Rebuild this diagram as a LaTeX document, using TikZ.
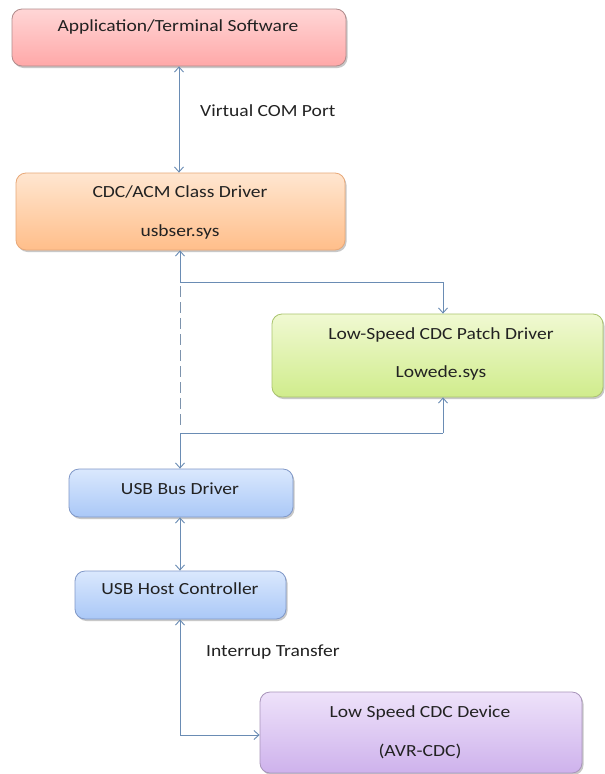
\documentclass[tikz,border=0pt]{standalone}
\usepackage{fontspec}
\setmainfont{Carlito}[FakeStretch=1.15]
\usetikzlibrary{arrows.meta,shadows,calc}

\definecolor{wire}{HTML}{6A8CB4}
\definecolor{dashwire}{HTML}{7D93AD}
\definecolor{ink}{HTML}{222222}

\tikzset{
  box/.style={rectangle, rounded corners=10pt, line width=0.8pt, inner sep=0pt,
    drop shadow={shadow xshift=1.5pt, shadow yshift=-2pt, opacity=0.3, fill=black!70}},
  lbl/.style={text=ink, font=\fontsize{17}{19}\selectfont, inner sep=0pt},
  link/.style={draw=wire, line width=0.9pt, arrows={-Straight Barb[length=5pt, width=9pt, line width=0.9pt]}},
  both/.style={link, arrows={Straight Barb[length=5pt, width=9pt, line width=0.9pt]-Straight Barb[length=5pt, width=9pt, line width=0.9pt]}},
  plain/.style={draw=wire, line width=0.9pt},
}

\begin{document}
\begin{tikzpicture}[x=1pt, y=-1pt]
  \useasboundingbox[fill=white] (0,0) rectangle (605,774);

  % boxes
  \node[box, draw={rgb,255:red,176;green,140;blue,140}, top color={rgb,255:red,255;green,214;blue,214},
        bottom color={rgb,255:red,255;green,168;blue,168},
        minimum width=334pt, minimum height=57pt] (app) at (179,37.5) {};
  \node[box, draw={rgb,255:red,232;green,168;blue,120}, top color={rgb,255:red,255;green,230;blue,208},
        bottom color={rgb,255:red,255;green,190;blue,138},
        minimum width=329pt, minimum height=77pt] (cdc) at (180.5,211.5) {};
  \node[box, draw={rgb,255:red,170;green,196;blue,110}, top color={rgb,255:red,240;green,249;blue,210},
        bottom color={rgb,255:red,208;green,236;blue,140},
        minimum width=331pt, minimum height=83pt] (patch) at (437.5,355.5) {};
  \node[box, draw={rgb,255:red,128;green,152;blue,200}, top color={rgb,255:red,218;green,232;blue,253},
        bottom color={rgb,255:red,170;green,200;blue,247},
        minimum width=224pt, minimum height=48pt] (bus) at (181,493) {};
  \node[box, draw={rgb,255:red,128;green,152;blue,200}, top color={rgb,255:red,218;green,232;blue,253},
        bottom color={rgb,255:red,170;green,200;blue,247},
        minimum width=211pt, minimum height=48pt] (host) at (180.5,595) {};
  \node[box, draw={rgb,255:red,168;green,148;blue,186}, top color={rgb,255:red,238;green,226;blue,250},
        bottom color={rgb,255:red,206;green,178;blue,236},
        minimum width=322pt, minimum height=81pt] (dev) at (421,732.5) {};

  % box texts
  \node[lbl] (appT) at (178,27) {Application/Terminal Software};
  \node[lbl] (cdcT1) at (180,192) {CDC/ACM Class Driver};
  \node[lbl] (cdcT2) at (180,232) {usbser.sys};
  \node[lbl] (patchT1) at (441,335) {Low-Speed CDC Patch Driver};
  \node[lbl] (patchT2) at (441,373) {Lowede.sys};
  \node[lbl] (busT) at (180,489) {USB Bus Driver};
  \node[lbl] (hostT) at (180,589) {USB Host Controller};
  \node[lbl] (devT1) at (420,713) {Low Speed CDC Device};
  \node[lbl] (devT2) at (420,751) {(AVR-CDC)};

  % connector labels
  \node[lbl, anchor=west] (vcom) at (200,111) {Virtual COM Port};
  \node[lbl, anchor=west] (intr) at (206,652) {Interrup Transfer};

  % junction points
  \coordinate (j1) at (180,282);
  \coordinate (j2) at (180,433);
  \coordinate (pin) at (443,282);
  \coordinate (pout) at (443,433);
  \coordinate (corner) at (180,735);
  \coordinate (devin) at (dev.west |- corner);

  % connectors
  \draw[both] (app.south) -- (app.south |- cdc.north);
  \draw[link] (j1) -- (j1 |- cdc.south);
  \draw[plain] (j1) -- (pin);
  \draw[link] (pin) -- (pin |- patch.north);
  \draw[plain, dash pattern=on 11pt off 5pt, draw=dashwire, line width=1pt] ($(j1)+(0,4)$) -- ($(j2)+(0,-3)$);
  \draw[link] (pout) -- (pout |- patch.south);
  \draw[plain] (j2) -- (pout);
  \draw[link] (j2) -- (j2 |- bus.north);
  \draw[both] (j2 |- bus.south) -- (j2 |- host.north);
  \draw[both] (j2 |- host.south) -- (corner) -- (devin);
\end{tikzpicture}
\end{document}
